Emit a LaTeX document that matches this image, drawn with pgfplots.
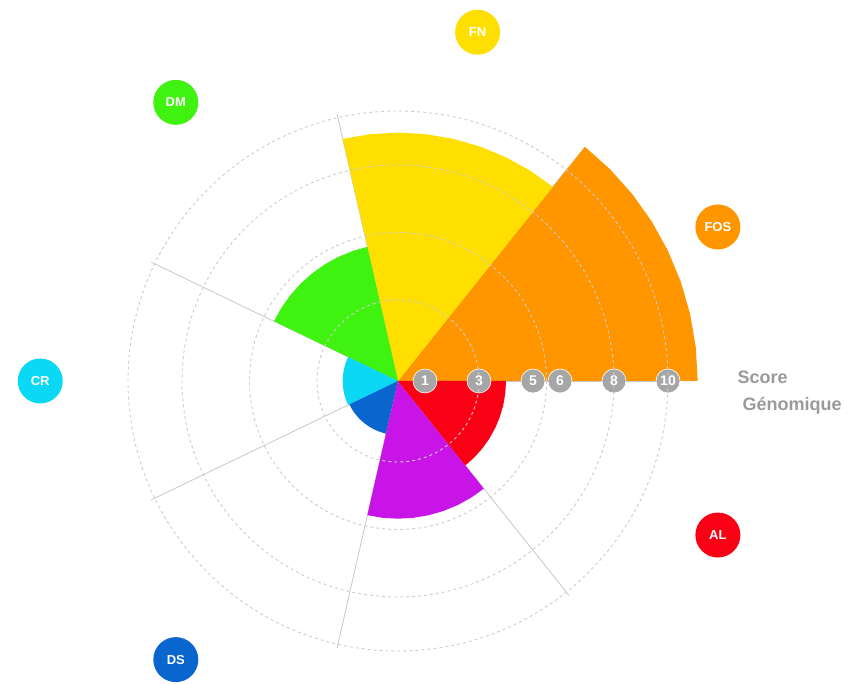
\documentclass[border=0pt]{standalone}
\usepackage{pgfplots}
\pgfplotsset{compat=1.18}
\usepgfplotslibrary{polar}
\usetikzlibrary{calc}
\usepackage{fontspec}
\setmainfont{Liberation Sans}
\definecolor{fosc}{HTML}{FF9600}
\definecolor{fnc}{HTML}{FFDF00}
\definecolor{dmc}{HTML}{3FF210}
\definecolor{crc}{HTML}{0AD8F5}
\definecolor{dsc}{HTML}{0A66CF}
\definecolor{puc}{HTML}{C814E6}
\definecolor{alc}{HTML}{FA0014}
\definecolor{tickgray}{HTML}{A6A6A6}
\definecolor{txtgray}{HTML}{9A9A9A}
\tikzset{lab/.style={circle, minimum size=45pt, inner sep=0pt, text=white,
  font=\bfseries\fontsize{13}{13}\selectfont}}
\begin{document}
\begin{tikzpicture}
\begin{polaraxis}[
  set layers,
  scale only axis, width=756pt, height=756pt,
  xmin=0, xmax=360, ymin=0, ymax=14,
  xtick=\empty, ytick={3,5.5,8,10}, ymajorticks=false,
  ymajorgrids,
  y grid style={dash pattern=on 3pt off 3pt, color=black!20, line width=0.9pt},
  axis line style={draw=none},
  major tick length=0pt,
  axis on top,
  clip=false,
]
\coordinate (O) at (axis cs:0,0);
% radial separators
\addplot[black!22, line width=0.8pt] coordinates {(0,0) (0,10.15)};
\addplot[black!22, line width=0.8pt] coordinates {(51.4286,0) (51.4286,10.15)};
\addplot[black!22, line width=0.8pt] coordinates {(102.857,0) (102.857,10.15)};
\addplot[black!22, line width=0.8pt] coordinates {(154.286,0) (154.286,10.15)};
\addplot[black!22, line width=0.8pt] coordinates {(205.714,0) (205.714,10.15)};
\addplot[black!22, line width=0.8pt] coordinates {(257.143,0) (257.143,10.15)};
\addplot[black!22, line width=0.8pt] coordinates {(308.571,0) (308.571,10.15)};
% sectors
\addplot[fill=fosc, draw=none] coordinates {(0,0) (0,11.1) (6.4286,11.1) (12.857,11.1) (19.286,11.1) (25.714,11.1) (32.143,11.1) (38.571,11.1) (45,11.1) (51.4286,11.1)} -- cycle;
\addplot[fill=fnc, draw=none] coordinates {(0,0) (51.4286,9.2) (57.857,9.2) (64.286,9.2) (70.714,9.2) (77.143,9.2) (83.571,9.2) (90,9.2) (96.429,9.2) (102.857,9.2)} -- cycle;
\addplot[fill=dmc, draw=none] coordinates {(0,0) (102.857,5.1) (109.286,5.1) (115.714,5.1) (122.143,5.1) (128.571,5.1) (135,5.1) (141.429,5.1) (147.857,5.1) (154.286,5.1)} -- cycle;
\addplot[fill=crc, draw=none] coordinates {(0,0) (154.286,2.05) (160.714,2.05) (167.143,2.05) (173.571,2.05) (180,2.05) (186.429,2.05) (192.857,2.05) (199.286,2.05) (205.714,2.05)} -- cycle;
\addplot[fill=dsc, draw=none] coordinates {(0,0) (205.714,2.0) (212.143,2.0) (218.571,2.0) (225,2.0) (231.429,2.0) (237.857,2.0) (244.286,2.0) (250.714,2.0) (257.143,2.0)} -- cycle;
\addplot[fill=puc, draw=none] coordinates {(0,0) (257.143,5.1) (263.571,5.1) (270,5.1) (276.429,5.1) (282.857,5.1) (289.286,5.1) (295.714,5.1) (302.143,5.1) (308.571,5.1)} -- cycle;
\addplot[fill=alc, draw=none] coordinates {(0,0) (308.571,4.0) (315,4.0) (321.429,4.0) (327.857,4.0) (334.286,4.0) (340.714,4.0) (347.143,4.0) (353.571,4.0) (360,4.0)} -- cycle;
% score markers
\addplot[on layer=axis foreground, only marks, mark=*, mark size=12pt,
  mark options={fill=tickgray, draw=white, line width=0.6pt},
  point meta=explicit symbolic, nodes near coords,
  every node near coord/.style={anchor=center, text=white, inner sep=0pt,
    font=\bfseries\fontsize{14}{14}\selectfont}]
  coordinates {(0,1)[1] (0,3)[3] (0,5)[5] (0,6)[6] (0,8)[8] (0,10)[10]};
% category labels
\node[lab, fill=fosc, on layer=axis foreground] at (axis cs:25.714,13.15) {FOS};
\node[lab, fill=fnc, on layer=axis foreground] at (axis cs:77.143,13.25) {FN};
\node[lab, fill=dmc, on layer=axis foreground] at (axis cs:128.571,13.2) {DM};
\node[lab, fill=crc, on layer=axis foreground] at (axis cs:180,13.25) {CR};
\node[lab, fill=dsc, on layer=axis foreground] at (axis cs:231.429,13.2) {DS};
\node[lab, fill=alc, on layer=axis foreground] at (axis cs:334.286,13.15) {AL};
\node[anchor=west, align=left, text=txtgray, on layer=axis foreground,
  font=\bfseries\fontsize{18}{27}\selectfont]
  at ($(O)+(336pt,-12pt)$) {Score\\\hspace*{5pt}Génomique};
\end{polaraxis}
\pgfresetboundingbox
\path[use as bounding box] ($(O)+(-398pt,-302pt)$) rectangle ($(O)+(456pt,381pt)$);
\end{tikzpicture}
\end{document}
